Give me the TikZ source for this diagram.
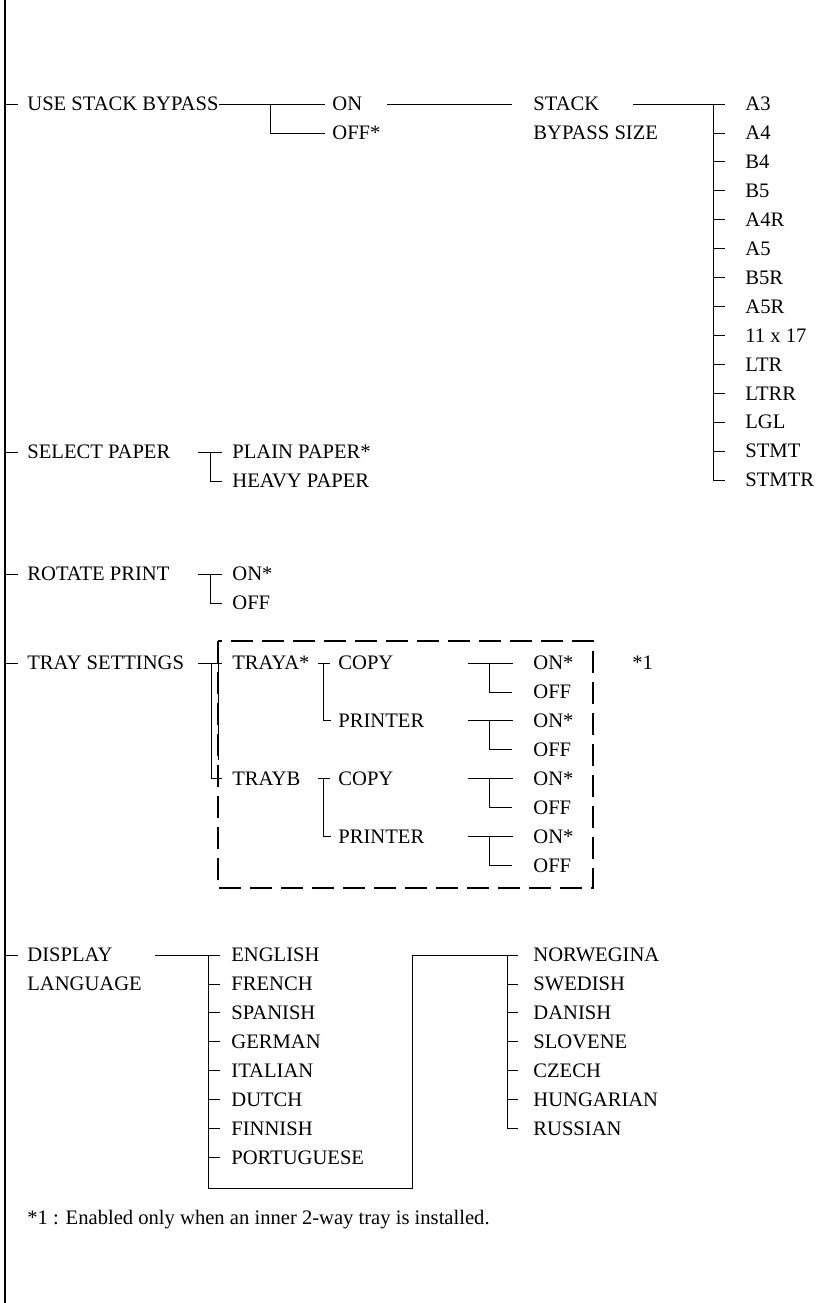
\documentclass[tikz,border=0pt]{standalone}
\usepackage{fontspec}
\setmainfont{Liberation Serif}
\begin{document}
\begin{tikzpicture}[x=1pt,y=-1pt,line width=0.8pt,
  txt/.style={anchor=west,inner sep=0pt,text height=13.7pt,text depth=0pt,font=\fontsize{20.6}{25}\selectfont},
  trunk/.style={line width=1.3pt},
  dbox/.style={line width=2.6pt,dash pattern=on 22pt off 9pt}]
\useasboundingbox (0,0) rectangle (816,1303);
% trunk
\coordinate (top) at (5,0);
\coordinate (bot) at (5,1303);
\draw[trunk] (top) -- (bot);
% level 1
\node[txt] (usb) at (27,104) {USE STACK BYPASS};
\node[txt] (sp) at (27,452) {SELECT PAPER};
\node[txt] (rp) at (27,574) {ROTATE PRINT};
\node[txt] (ts) at (27,663) {TRAY SETTINGS};
\node[txt] (dl) at (27,955) {DISPLAY};
\node[txt] (dl2) at (27,984) {LANGUAGE};
\foreach \n in {usb,sp,rp,ts,dl} \draw (\n.west -| top) -- ([xshift=-9pt]\n.west);
% use stack bypass
\node[txt] (on) at (332,104) {ON};
\node[txt] (off) at (332,133) {OFF*};
\draw (usb.east) -- ([xshift=-7pt]on.west);
\coordinate (j1) at (270,104);
\draw (j1) |- ([xshift=-7pt]off.west);
\node[txt] (stk) at (533,104) {STACK};
\node[txt] (bps) at (533,133) {BYPASS SIZE};
\coordinate (onr) at (387,104);
\draw (onr) -- ([xshift=-21pt]stk.west);
\foreach \t [count=\i from 0] in {A3,A4,B4,B5,A4R,A5,B5R,A5R,11 x 17,LTR,LTRR,LGL,STMT,STMTR}
  \node[txt] (sz\i) at (745,{104+\i*28.92}) {\t};
\coordinate (stkr) at (633,104);
\coordinate (szv) at (713,104);
\draw (stkr) -- ([xshift=-20pt]sz0.west);
\draw (szv) |- ([xshift=-20pt]sz13.west);
\foreach \i in {1,...,12} \draw (sz\i.west -| szv) -- ([xshift=-20pt]sz\i.west);
% select paper
\node[txt] (pp) at (232,452) {PLAIN PAPER*};
\node[txt] (hp) at (232,481) {HEAVY PAPER};
\coordinate (spl) at (198,452);
\coordinate (spj) at (210,452);
\draw (spl) -- ([xshift=-10pt]pp.west);
\draw (spj) |- ([xshift=-10pt]hp.west);
% rotate print
\node[txt] (ron) at (232,574) {ON*};
\node[txt] (roff) at (232,603) {OFF};
\coordinate (rpl) at (198,574);
\coordinate (rpj) at (210,574);
\draw (rpl) -- ([xshift=-10pt]ron.west);
\draw (rpj) |- ([xshift=-10pt]roff.west);
% tray settings
\draw[dbox] (218,641) rectangle (593,888);
\node[txt] (ta) at (232,663) {TRAYA*};
\node[txt] (tb) at (232,778.6) {TRAYB};
\coordinate (tsl) at (198,663);
\coordinate (tsj) at (211,663);
\coordinate (tsk) at (218,656);
\draw (tsl) -- ([xshift=-10pt]ta.west);
\draw (tsj) |- ([xshift=-10pt]tb.west);
\draw (tsk) -- ++(0,104);
\node[txt] (ca) at (338,663) {COPY};
\node[txt] (pa) at (338,720.8) {PRINTER};
\node[txt] (cb) at (338,778.6) {COPY};
\node[txt] (pb) at (338,836.4) {PRINTER};
\foreach \a/\c/\p in {ta/ca/pa,tb/cb/pb}{
  \draw ([xshift=-20pt]\c.west) -- ([xshift=-8pt]\c.west);
  \draw ([xshift=-15pt]\c.west) |- ([xshift=-7pt]\p.west);
}
\foreach \k/\n in {0/ca,1/pa,2/cb,3/pb}{
  \node[txt] (on\k) at (533,{663+2*\k*28.9}) {ON*};
  \node[txt] (of\k) at (533,{663+(2*\k+1)*28.9}) {OFF};
  \draw ([xshift=-65pt]on\k.west) -- ([xshift=-20pt]on\k.west);
  \draw ([xshift=-44pt]on\k.west) |- ([xshift=-21pt]of\k.west);
}
\node[txt] (n1) at (632,663) {*1};
% display language
\foreach \t [count=\i from 0] in {ENGLISH,FRENCH,SPANISH,GERMAN,ITALIAN,DUTCH,FINNISH,PORTUGUESE}
  \node[txt] (la\i) at (231,{955+\i*28.92}) {\t};
\foreach \t [count=\i from 0] in {NORWEGINA,SWEDISH,DANISH,SLOVENE,CZECH,HUNGARIAN,RUSSIAN}
  \node[txt] (lb\i) at (533,{955+\i*28.92}) {\t};
\coordinate (dll) at (155,955);
\coordinate (lav) at (208,955);
\coordinate (lbot) at (208,1188);
\coordinate (lrt) at (412,1188);
\coordinate (lbv) at (507,955);
\draw (dll) -- ([xshift=-11pt]la0.west);
\draw (lav) -- (lbot) -- (lrt) |- ([xshift=-15pt]lb0.west);
\foreach \i in {1,...,7} \draw (la\i.west -| lav) -- ([xshift=-11pt]la\i.west);
\draw (lbv) |- ([xshift=-15pt]lb6.west);
\foreach \i in {1,...,5} \draw (lb\i.west -| lbv) -- ([xshift=-15pt]lb\i.west);
% footnote
\node[txt] (fn) at (27,1218) {*1 : Enabled only when an inner 2-way tray is installed.};
\end{tikzpicture}
\end{document}
